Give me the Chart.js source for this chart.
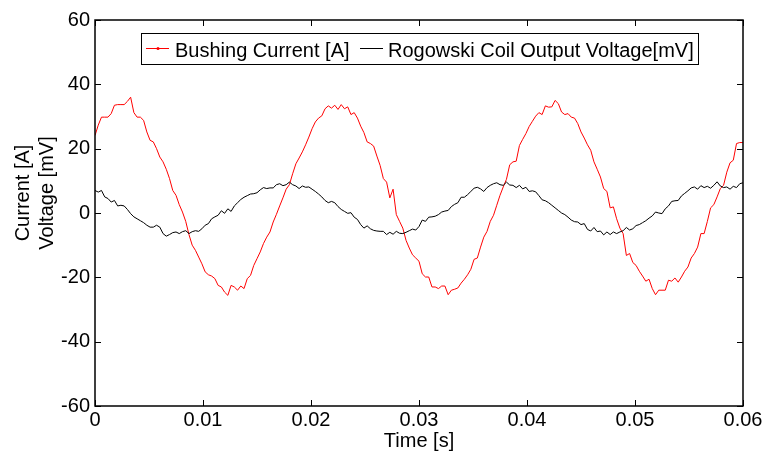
<!DOCTYPE html>
<html>
<head>
<meta charset="utf-8">
<script src="https://cdn.jsdelivr.net/npm/chart.js@4.4.1/dist/chart.umd.min.js"></script>
<style>
html,body{margin:0;padding:0;background:#fff;}
#wrap{width:766px;height:453px;}
</style>
</head>
<body>
<div id="wrap"><canvas id="grafica" width="766" height="453"></canvas></div>
<script>
/* =====================================
   DATOS
===================================== */

// intervalo entre muestras [s]
const paso = 0.0003;

// Bushing Current [A]
const corriente = [
  24.1, 27.3, 29.8, 29.8, 29.8, 30.9, 33.5, 33.7, 33.7, 33.7,
  34.7, 36.0, 31.2, 29.8, 29.8, 28.8, 25.2, 22.6, 22.1, 20.0,
  17.4, 15.9, 13.6, 10.7, 7.0, 5.5, 2.6, 0.3, -2.6, -6.7,
  -10.0, -11.6, -13.7, -15.8, -18.3, -19.2, -19.6, -20.4, -22.5, -23.0,
  -24.6, -25.6, -22.5, -23.0, -24.0, -22.7, -23.5, -20.4, -19.4, -16.3,
  -14.2, -12.1, -9.5, -7.5, -5.9, -2.8, -0.4, 2.2, 4.7, 7.4,
  8.8, 12.2, 15.3, 17.1, 19.0, 21.2, 23.6, 26.2, 28.3, 29.5,
  30.2, 32.4, 33.3, 32.6, 33.5, 32.2, 33.7, 32.4, 33.0, 30.6,
  31.2, 29.5, 27.0, 25.0, 22.1, 21.6, 20.8, 17.7, 14.8, 10.7,
  9.6, 4.7, 7.4, -0.5, -2.6, -4.7, -8.5, -10.9, -13.0, -14.0,
  -15.0, -18.9, -19.9, -19.9, -23.0, -23.0, -23.5, -22.7, -22.7, -25.4,
  -24.0, -23.7, -23.3, -21.8, -20.6, -19.2, -17.5, -14.4, -14.0, -10.6,
  -7.5, -5.7, -2.6, -0.7, 2.4, 5.5, 8.1, 10.5, 15.0, 15.9,
  16.1, 21.0, 22.9, 24.7, 26.9, 28.5, 30.1, 31.2, 30.6, 33.3,
  32.9, 33.0, 35.0, 34.0, 31.4, 30.6, 30.9, 29.8, 29.5, 27.8,
  25.2, 23.3, 21.2, 19.5, 15.9, 13.6, 11.2, 7.6, 6.7, 1.6,
  1.9, -1.8, -4.7, -6.4, -13.2, -12.6, -15.4, -16.3, -18.1, -19.6,
  -21.2, -20.6, -23.5, -25.4, -24.0, -24.0, -24.0, -20.9, -21.2, -20.2,
  -21.5, -19.9, -18.1, -16.8, -14.0, -12.6, -10.6, -6.4, -6.4, -2.6,
  1.6, 2.6, 5.0, 7.6, 8.6, 12.7, 15.6, 16.4, 21.6, 21.9,
  21.9
];

// Rogowski Coil Output Voltage [mV]
const voltaje = [
  7.0, 6.5, 7.0, 5.0, 4.5, 3.4, 3.9, 2.2, 2.4, 2.2,
  1.1, -0.2, -1.2, -1.8, -2.4, -3.0, -3.8, -4.4, -4.4, -3.8,
  -4.4, -6.4, -7.2, -6.7, -6.1, -5.9, -6.4, -5.8, -5.5, -6.4,
  -5.8, -5.5, -5.7, -4.9, -3.8, -3.3, -1.8, -1.2, -0.7, 0.7,
  -0.1, 1.3, 0.5, 2.2, 3.2, 4.2, 4.9, 5.4, 5.9, 6.0,
  6.3, 7.2, 7.9, 7.6, 7.8, 7.8, 8.8, 9.1, 8.5, 8.8,
  9.6, 8.8, 8.4, 7.6, 8.4, 8.0, 8.1, 7.4, 6.7, 5.9,
  5.0, 3.9, 3.2, 3.6, 3.2, 2.0, 1.1, 0.5, -0.1, 0.1,
  -1.3, -2.0, -3.6, -4.7, -4.0, -4.9, -5.4, -5.6, -5.7, -5.7,
  -6.7, -6.0, -6.6, -5.7, -6.3, -6.4, -6.0, -5.5, -5.0, -5.3,
  -4.2, -2.2, -2.6, -1.3, -1.2, -1.0, -0.5, 0.3, 0.6, 0.8,
  2.0, 2.7, 3.2, 4.9, 4.9, 5.7, 6.7, 7.7, 8.0, 7.5,
  6.7, 7.9, 8.6, 9.1, 9.4, 8.8, 8.6, 9.6, 8.7, 8.6,
  7.9, 8.6, 7.5, 8.0, 6.7, 6.9, 6.6, 5.4, 4.1, 3.8,
  3.2, 2.4, 1.6, 0.8, 0.0, -0.5, -1.3, -2.2, -2.7, -2.8,
  -3.6, -3.3, -5.1, -5.6, -4.5, -5.8, -5.6, -6.8, -5.9, -6.7,
  -5.9, -6.4, -5.9, -5.5, -4.5, -5.3, -4.9, -3.9, -3.6, -3.0,
  -2.4, -1.6, -0.9, 0.3, 0.0, -0.2, 1.3, 2.2, 3.6, 3.8,
  3.9, 5.3, 6.1, 6.9, 7.8, 8.1, 7.4, 8.5, 7.9, 8.3,
  7.7, 8.6, 9.7, 8.4, 7.9, 8.1, 7.4, 8.3, 7.9, 9.1,
  9.4
];

const ticksX = [0, 0.01, 0.02, 0.03, 0.04, 0.05, 0.06];
const etiquetasX = ["0", "0.01", "0.02", "0.03", "0.04", "0.05", "0.06"];

const ticksY = [-60, -40, -20, 0, 20, 40, 60];
const etiquetasY = ["-60", "-40", "-20", "0", "20", "40", "60"];

const nombres = ["Bushing Current [A]", "Rogowski Coil Output Voltage[mV]"];
const tituloY = ["Current [A]", "Voltage [mV]"];
const tituloX = "Time [s]";

/* =====================================
   PREPARAR PUNTOS
===================================== */

const tiempo = corriente.map((_, i) => Number((i * paso).toFixed(4)));

const puntosCorriente = corriente.map((v, i) => ({x: tiempo[i], y: v}));
const puntosVoltaje = voltaje.map((v, i) => ({x: tiempo[i], y: v}));

const fuente = '"Liberation Sans", Arial, Helvetica, sans-serif';

/* =====================================
   MARCO Y TICKS HACIA ADENTRO
===================================== */

const marco = {
    id: "marco",
    afterDatasetsDraw(chart){
        const {ctx, chartArea, scales} = chart;
        const {left, right, top, bottom} = chartArea;
        const largo = 6;

        ctx.save();
        ctx.strokeStyle = "#000";
        ctx.lineWidth = 1;

        ctx.beginPath();
        ticksX.forEach(v => {
            const px = Math.round(scales.x.getPixelForValue(v)) + 0.5;
            ctx.moveTo(px, bottom); ctx.lineTo(px, bottom - largo);
            ctx.moveTo(px, top); ctx.lineTo(px, top + largo);
        });
        ticksY.forEach(v => {
            const py = Math.round(scales.y.getPixelForValue(v)) + 0.5;
            ctx.moveTo(left, py); ctx.lineTo(left + largo, py);
            ctx.moveTo(right, py); ctx.lineTo(right - largo, py);
        });
        ctx.stroke();

        ctx.lineWidth = 1.5;
        ctx.strokeRect(left, top, right - left, bottom - top);
        ctx.restore();
    }
};

/* =====================================
   LEYENDA DENTRO DEL AREA
===================================== */

const leyenda = {
    id: "leyenda",
    afterDraw(chart){
        const ctx = chart.ctx;
        const caja = {x: 141, y: 33, w: 557, h: 31};
        const base = 57;
        const cy = 48.5;
        const muestras = [146, 360];

        ctx.save();
        ctx.fillStyle = "#fff";
        ctx.fillRect(caja.x, caja.y, caja.w, caja.h);
        ctx.strokeStyle = "#000";
        ctx.lineWidth = 1;
        ctx.strokeRect(caja.x + 0.5, caja.y + 0.5, caja.w, caja.h);

        ctx.font = "20px " + fuente;
        ctx.textBaseline = "alphabetic";
        ctx.textAlign = "left";

        chart.data.datasets.forEach((ds, i) => {
            const x0 = muestras[i];
            ctx.strokeStyle = ds.borderColor;
            ctx.beginPath();
            ctx.moveTo(x0, cy);
            ctx.lineTo(x0 + 23, cy);
            ctx.stroke();
            if(i === 0){
                ctx.fillStyle = ds.borderColor;
                ctx.beginPath();
                ctx.arc(x0 + 12, cy, 1.5, 0, Math.PI * 2);
                ctx.fill();
            }
            ctx.fillStyle = "#000";
            ctx.fillText(ds.label, x0 + 29 - (i === 0 ? 0 : 1), base);
        });
        ctx.restore();
    }
};

/* =====================================
   TITULO EJE Y (dos lineas)
===================================== */

const tituloEjeY = {
    id: "tituloEjeY",
    afterDraw(chart){
        const ctx = chart.ctx;
        const centroY = 193;
        const columnas = [23, 47];

        ctx.save();
        ctx.font = "20px " + fuente;
        ctx.fillStyle = "#000";
        ctx.textAlign = "center";
        ctx.textBaseline = "middle";
        tituloY.forEach((t, i) => {
            ctx.save();
            ctx.translate(columnas[i], centroY);
            ctx.rotate(-Math.PI / 2);
            ctx.fillText(t, 0, 0);
            ctx.restore();
        });
        ctx.restore();
    }
};

/* =====================================
   GRAFICA
===================================== */

const grafica = new Chart(
    document.getElementById("grafica"),
    {
        type: "line",
        data: {
            datasets: [
                {
                    label: nombres[0],
                    data: puntosCorriente,
                    borderColor: "#ff0000",
                    borderWidth: 1,
                    pointRadius: 0,
                    tension: 0,
                    fill: false,
                    order: 1
                },
                {
                    label: nombres[1],
                    data: puntosVoltaje,
                    borderColor: "#000000",
                    borderWidth: 1,
                    pointRadius: 0,
                    tension: 0,
                    fill: false,
                    order: 0
                }
            ]
        },
        options: {
            responsive: false,
            animation: false,
            devicePixelRatio: 1,
            layout: {
                padding: {left: 0, right: 23, top: 20, bottom: 0}
            },
            plugins: {
                legend: {display: false},
                tooltip: {enabled: false}
            },
            scales: {
                x: {
                    type: "linear",
                    min: 0,
                    max: 0.06,
                    afterBuildTicks: s => { s.ticks = ticksX.map(v => ({value: v})); },
                    afterFit: s => { s.height = 47; },
                    grid: {display: false, drawTicks: false},
                    border: {display: false},
                    ticks: {
                        autoSkip: false,
                        maxRotation: 0,
                        padding: 2,
                        color: "#000",
                        font: {size: 20, family: fuente},
                        callback: v => etiquetasX[ticksX.indexOf(v)]
                    },
                    title: {
                        display: true,
                        text: tituloX,
                        color: "#000",
                        font: {size: 20, family: fuente},
                        padding: {top: 0, bottom: 0}
                    }
                },
                y: {
                    type: "linear",
                    min: -60,
                    max: 60,
                    afterBuildTicks: s => { s.ticks = ticksY.map(v => ({value: v})); },
                    afterFit: s => { s.width = 95; },
                    grid: {display: false, drawTicks: false},
                    border: {display: false},
                    ticks: {
                        autoSkip: false,
                        padding: 5,
                        color: "#000",
                        font: {size: 20, family: fuente},
                        callback: v => etiquetasY[ticksY.indexOf(v)]
                    }
                }
            }
        },
        plugins: [marco, leyenda, tituloEjeY]
    }
);
</script>
</body>
</html>
